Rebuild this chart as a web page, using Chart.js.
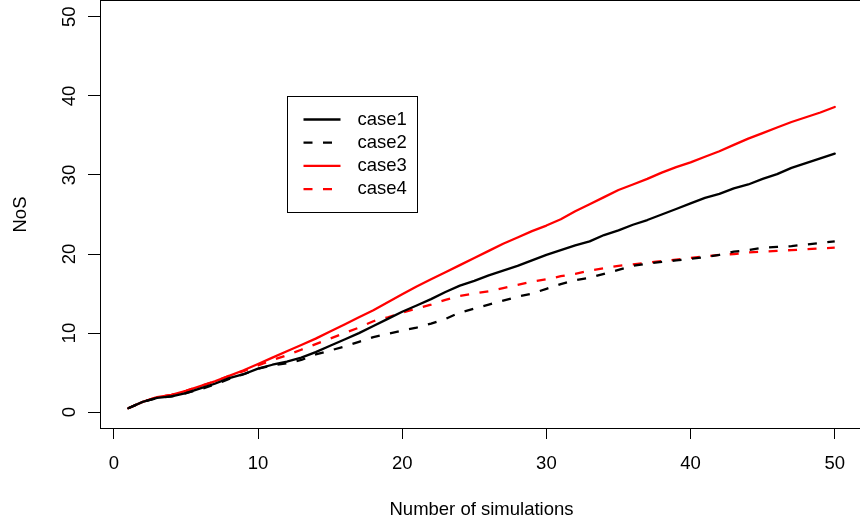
<!DOCTYPE html>
<html>
<head>
<meta charset="utf-8">
<script src="https://cdn.jsdelivr.net/npm/chart.js@4.4.1/dist/chart.umd.min.js"></script>
<style>
  html, body { margin: 0; padding: 0; overflow: hidden; background: #fff; }
  #wrap { width: 866px; height: 527px; position: relative; }
</style>
</head>
<body>
<div id="wrap"><canvas id="myChart"></canvas></div>
<script>
const runs = [1, 2, 3, 4, 5, 6, 7, 8, 9, 10, 11, 12, 13, 14, 15, 16, 17, 18, 19, 20,
    21, 22, 23, 24, 25, 26, 27, 28, 29, 30, 31, 32, 33, 34, 35, 36, 37, 38, 39, 40,
    41, 42, 43, 44, 45, 46, 47, 48, 49, 50];
const case1 = [0.5, 1.3, 1.8, 2.0, 2.4, 3.0, 3.6, 4.3, 4.8, 5.5, 6.0, 6.4, 6.9, 7.6, 8.4, 9.2, 10.0, 10.9, 11.8, 12.7,
    13.5, 14.3, 15.2, 16.0, 16.6, 17.3, 17.9, 18.5, 19.2, 19.9, 20.5, 21.1, 21.6, 22.4, 23.0, 23.7, 24.3, 25.0, 25.7, 26.4,
    27.1, 27.6, 28.3, 28.8, 29.5, 30.1, 30.9, 31.5, 32.1, 32.7];
const case2 = [0.5, 1.3, 1.8, 2.0, 2.4, 2.9, 3.5, 4.2, 4.8, 5.5, 5.9, 6.2, 6.6, 7.3, 7.8, 8.3, 8.9, 9.5, 9.9, 10.3,
    10.7, 11.2, 11.8, 12.6, 13.1, 13.6, 14.1, 14.6, 15.0, 15.6, 16.2, 16.7, 17.0, 17.5, 18.0, 18.5, 18.8, 19.0, 19.2, 19.4,
    19.6, 19.9, 20.3, 20.5, 20.8, 20.9, 21.0, 21.2, 21.4, 21.6];
const case3 = [0.5, 1.3, 1.9, 2.2, 2.7, 3.3, 3.9, 4.6, 5.3, 6.1, 6.9, 7.7, 8.5, 9.3, 10.2, 11.1, 12.0, 12.9, 13.9, 14.9,
    15.9, 16.8, 17.7, 18.6, 19.5, 20.4, 21.3, 22.1, 22.9, 23.6, 24.4, 25.4, 26.3, 27.2, 28.1, 28.8, 29.5, 30.3, 31.0, 31.6,
    32.3, 33.0, 33.8, 34.6, 35.3, 36.0, 36.7, 37.3, 37.9, 38.6];
const case4 = [0.5, 1.3, 1.9, 2.2, 2.7, 3.3, 3.9, 4.6, 5.2, 5.9, 6.6, 7.2, 7.9, 8.6, 9.3, 10.0, 10.7, 11.5, 12.0, 12.6,
    13.1, 13.6, 14.2, 14.7, 15.0, 15.3, 15.7, 16.1, 16.5, 16.8, 17.2, 17.5, 17.9, 18.2, 18.5, 18.7, 18.9, 19.1, 19.3, 19.5,
    19.7, 19.9, 20.0, 20.2, 20.3, 20.4, 20.5, 20.6, 20.7, 20.8];
const xTicks = [0, 10, 20, 30, 40, 50];
const yTicks = [0, 10, 20, 30, 40, 50];
// legend top-left corner, in data units
const legendAt = [12, 40];

const FONT = "'Liberation Sans', Arial, Helvetica, sans-serif";
const SIZE = 18.5;

function series(label, values, color, dashed) {
    return {
        label: label,
        data: runs.map((r, i) => ({ x: r, y: values[i] })),
        borderColor: color,
        borderWidth: 2.3,
        borderDash: dashed ? [9, 10.5] : [],
        borderCapStyle: dashed ? 'butt' : 'round',
        borderJoinStyle: 'round',
        pointRadius: 0,
        tension: 0,
        fill: false,
    };
}

// box around the plot region plus the line legend
const frame = {
    id: 'frame',
    afterDraw(chart) {
        const { ctx, chartArea: a, scales } = chart;
        ctx.save();
        ctx.strokeStyle = '#000';
        ctx.lineWidth = 1;
        ctx.strokeRect(Math.round(a.left) + 0.5, Math.round(a.top) - 0.5,
            Math.round(a.right - a.left), Math.round(a.bottom - a.top) + 1);

        const left = Math.round(scales.x.getPixelForValue(legendAt[0])) + 0.5;
        const top = Math.round(scales.y.getPixelForValue(legendAt[1])) + 0.5;
        ctx.strokeRect(left, top, 130, 116);
        ctx.font = SIZE + 'px ' + FONT;
        ctx.textBaseline = 'middle';
        chart.data.datasets.forEach((ds, i) => {
            const cy = top + 23 + i * 23.2;
            ctx.beginPath();
            ctx.setLineDash(ds.borderDash);
            ctx.strokeStyle = ds.borderColor;
            ctx.lineWidth = ds.borderWidth;
            ctx.moveTo(left + 16, cy);
            ctx.lineTo(left + 53, cy);
            ctx.stroke();
            ctx.setLineDash([]);
            ctx.fillStyle = '#000';
            ctx.fillText(ds.label, left + 70, cy);
        });
        ctx.restore();
    }
};

const config = {
    type: 'line',
    data: {
        datasets: [
            series('case1', case1, '#000000', false),
            series('case2', case2, '#000000', true),
            series('case3', case3, '#ff0000', false),
            series('case4', case4, '#ff0000', true),
        ]
    },
    options: {
        responsive: true,
        maintainAspectRatio: false,
        animation: false,
        devicePixelRatio: 1,
        layout: { padding: { top: 1, right: 3, left: 0, bottom: 0 } },
        plugins: {
            legend: { display: false },
            tooltip: { enabled: false },
        },
        scales: {
            x: {
                type: 'linear',
                min: -0.96,
                max: 51.96,
                afterBuildTicks: (s) => { s.ticks = xTicks.map(v => ({ value: v })); },
                afterFit: (s) => { s.height = 99; s.paddingLeft = 0; s.paddingRight = 0; },
                grid: { drawOnChartArea: false, drawTicks: true, tickLength: 11, color: '#000', tickColor: '#000' },
                border: { display: false },
                ticks: { color: '#000', font: { family: FONT, size: SIZE }, padding: 14, maxRotation: 0 },
                title: {
                    display: true,
                    text: 'Number of simulations',
                    color: '#000',
                    font: { family: FONT, size: SIZE },
                    padding: { top: 0, bottom: 6 },
                },
            },
            y: {
                type: 'linear',
                min: -2,
                max: 52,
                afterBuildTicks: (s) => { s.ticks = yTicks.map(v => ({ value: v })); },
                afterFit: (s) => { s.width = 100; s.paddingTop = 0; s.paddingBottom = 0; },
                grid: { drawOnChartArea: false, drawTicks: true, tickLength: 12, color: '#000', tickColor: '#000' },
                border: { display: false },
                ticks: {
                    color: '#000',
                    font: { family: FONT, size: SIZE },
                    minRotation: 90,
                    maxRotation: 90,
                    crossAlign: 'center',
                    padding: 8,
                },
                title: {
                    display: true,
                    text: 'NoS',
                    color: '#000',
                    font: { family: FONT, size: SIZE },
                    padding: { top: 10, bottom: 0 },
                },
            },
        },
    },
    plugins: [frame],
};

const myChart = new Chart(document.getElementById('myChart'), config);
</script>
</body>
</html>
